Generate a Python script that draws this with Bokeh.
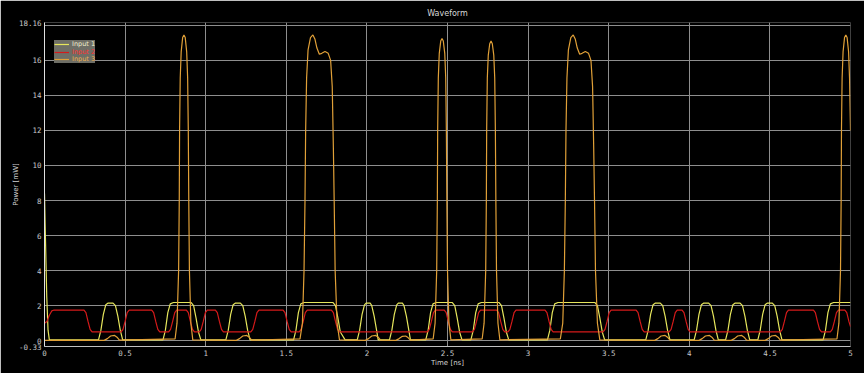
from bokeh.plotting import figure
from bokeh.models import FixedTicker, PrintfTickFormatter, Legend, LegendItem, Range1d
from bokeh.embed import file_html
from bokeh.resources import INLINE

# ---------------- data (time [ns], power [mW]) ----------------
series_names = ["Input 1", "Input 2", "Input 3"]
series_colors = ["#e6e65c", "#d41a1a", "#e0a038"]

input1_pts = [
    (0.0, 8.4), (0.004, 6.6), (0.008, 5.0), (0.014, 2.5), (0.022, 0.6), (0.03, 0.05),
    (0.335, 0.05), (0.35, 0.6), (0.365, 1.5), (0.38, 2.05), (0.395, 2.15), (0.425, 2.15),
    (0.44, 2.0), (0.455, 1.4), (0.47, 0.6), (0.485, 0.05),
    (0.735, 0.05), (0.75, 0.6), (0.765, 1.6), (0.78, 2.1), (0.80, 2.18), (0.91, 2.18),
    (0.925, 2.0), (0.94, 1.3), (0.955, 0.5), (0.97, 0.05),
    (1.125, 0.05), (1.14, 0.6), (1.155, 1.5), (1.17, 2.05), (1.185, 2.15), (1.215, 2.15),
    (1.23, 2.0), (1.245, 1.4), (1.26, 0.6), (1.275, 0.05),
    (1.545, 0.05), (1.56, 0.6), (1.575, 1.6), (1.59, 2.1), (1.61, 2.18), (1.79, 2.18),
    (1.805, 2.0), (1.82, 1.3), (1.835, 0.5), (1.865, 0.05),
    (1.94, 0.05), (1.955, 0.6), (1.97, 1.5), (1.985, 2.05), (1.995, 2.15), (2.02, 2.15),
    (2.03, 2.0), (2.045, 1.4), (2.06, 0.6), (2.07, 0.05),
    (2.14, 0.05), (2.155, 0.6), (2.17, 1.5), (2.185, 2.05), (2.195, 2.15), (2.22, 2.15),
    (2.23, 2.0), (2.245, 1.4), (2.26, 0.6), (2.27, 0.05),
    (2.365, 0.05), (2.38, 0.6), (2.395, 1.6), (2.41, 2.1), (2.43, 2.18), (2.53, 2.18),
    (2.545, 2.0), (2.56, 1.3), (2.575, 0.5), (2.59, 0.05),
    (2.645, 0.05), (2.66, 0.6), (2.675, 1.6), (2.69, 2.1), (2.71, 2.18), (2.82, 2.18),
    (2.835, 2.0), (2.85, 1.3), (2.865, 0.5), (2.88, 0.05),
    (3.12, 0.05), (3.135, 0.6), (3.15, 1.6), (3.165, 2.1), (3.185, 2.18), (3.415, 2.18),
    (3.43, 2.0), (3.445, 1.3), (3.46, 0.5), (3.475, 0.05),
    (3.73, 0.05), (3.745, 0.6), (3.76, 1.5), (3.775, 2.05), (3.79, 2.15), (3.82, 2.15),
    (3.835, 2.0), (3.85, 1.4), (3.865, 0.6), (3.88, 0.05),
    (4.03, 0.05), (4.045, 0.6), (4.06, 1.5), (4.075, 2.05), (4.09, 2.15), (4.12, 2.15),
    (4.135, 2.0), (4.15, 1.4), (4.165, 0.6), (4.18, 0.05),
    (4.225, 0.05), (4.24, 0.6), (4.255, 1.5), (4.27, 2.05), (4.285, 2.15), (4.315, 2.15),
    (4.33, 2.0), (4.345, 1.4), (4.36, 0.6), (4.375, 0.05),
    (4.425, 0.05), (4.44, 0.6), (4.455, 1.5), (4.47, 2.05), (4.485, 2.15), (4.515, 2.15),
    (4.53, 2.0), (4.545, 1.4), (4.56, 0.6), (4.575, 0.05),
    (4.83, 0.05), (4.845, 0.6), (4.86, 1.6), (4.875, 2.1), (4.895, 2.18), (5.0, 2.18),
]

input2_pts = [
    (0.0, 1.0), (0.015, 1.1), (0.03, 1.45), (0.045, 1.7), (0.06, 1.75),
    (0.245, 1.75), (0.257, 1.6), (0.27, 1.1), (0.283, 0.65), (0.295, 0.5),
    (0.475, 0.5), (0.487, 0.65), (0.5, 1.1), (0.513, 1.6), (0.525, 1.75),
    (0.665, 1.75), (0.677, 1.6), (0.69, 1.1), (0.703, 0.65), (0.715, 0.5),
    (0.77, 0.5), (0.782, 0.65), (0.795, 1.1), (0.808, 1.6), (0.82, 1.75),
    (0.88, 1.75), (0.892, 1.6), (0.905, 1.1), (0.918, 0.65), (0.93, 0.5),
    (0.96, 0.5), (0.972, 0.65), (0.985, 1.1), (0.998, 1.6), (1.01, 1.75),
    (1.06, 1.75), (1.072, 1.6), (1.085, 1.1), (1.098, 0.65), (1.11, 0.5),
    (1.28, 0.5), (1.292, 0.65), (1.305, 1.1), (1.318, 1.6), (1.33, 1.75),
    (1.48, 1.75), (1.492, 1.6), (1.505, 1.1), (1.518, 0.65), (1.53, 0.5),
    (1.58, 0.5), (1.592, 0.65), (1.605, 1.1), (1.618, 1.6), (1.63, 1.75),
    (1.78, 1.75), (1.792, 1.6), (1.805, 1.1), (1.818, 0.65), (1.83, 0.5),
    (2.375, 0.5), (2.387, 0.65), (2.4, 1.1), (2.413, 1.6), (2.425, 1.75),
    (2.48, 1.75), (2.492, 1.6), (2.505, 1.1), (2.518, 0.65), (2.53, 0.5),
    (2.655, 0.5), (2.667, 0.65), (2.68, 1.1), (2.693, 1.6), (2.705, 1.75),
    (2.805, 1.75), (2.817, 1.6), (2.83, 1.1), (2.843, 0.65), (2.855, 0.5),
    (2.875, 0.5), (2.887, 0.65), (2.9, 1.1), (2.913, 1.6), (2.925, 1.75),
    (3.105, 1.75), (3.117, 1.6), (3.13, 1.1), (3.143, 0.65), (3.155, 0.5),
    (3.465, 0.5), (3.477, 0.65), (3.49, 1.1), (3.503, 1.6), (3.515, 1.75),
    (3.67, 1.75), (3.682, 1.6), (3.695, 1.1), (3.708, 0.65), (3.72, 0.5),
    (3.875, 0.5), (3.887, 0.65), (3.9, 1.1), (3.913, 1.6), (3.925, 1.75),
    (3.955, 1.75), (3.967, 1.6), (3.98, 1.1), (3.993, 0.65), (4.005, 0.5),
    (4.565, 0.5), (4.577, 0.65), (4.59, 1.1), (4.603, 1.6), (4.615, 1.75),
    (4.77, 1.75), (4.782, 1.6), (4.795, 1.1), (4.808, 0.65), (4.82, 0.5),
    (4.875, 0.5), (4.887, 0.65), (4.9, 1.1), (4.913, 1.6), (4.925, 1.75),
    (4.965, 1.75), (4.977, 1.6), (4.99, 1.1), (5.0, 0.8),
]

input3_pts = [
    (0.0, 0.02),
    (0.37, 0.02), (0.39, 0.12), (0.41, 0.27), (0.435, 0.3), (0.45, 0.2), (0.465, 0.03),
    (0.81, 0.1), (0.822, 1.0), (0.832, 4.0), (0.836, 8.0), (0.838, 12.0), (0.842, 15.0),
    (0.848, 16.5), (0.857, 17.3), (0.865, 17.45), (0.873, 17.3), (0.882, 16.5), (0.888, 15.0),
    (0.892, 12.0), (0.895, 8.0), (0.899, 4.0), (0.908, 1.0), (0.92, 0.05),
    (1.19, 0.02), (1.21, 0.12), (1.23, 0.27), (1.255, 0.3), (1.27, 0.2), (1.285, 0.03),
    (1.585, 0.1), (1.6, 1.0), (1.61, 4.0), (1.616, 8.0), (1.62, 12.0), (1.626, 15.0),
    (1.635, 16.6), (1.65, 17.3), (1.665, 17.45), (1.678, 17.2), (1.69, 16.7), (1.705, 16.35),
    (1.72, 16.4), (1.74, 16.5), (1.76, 16.4), (1.775, 16.0), (1.785, 14.5), (1.792, 11.0),
    (1.797, 8.0), (1.803, 4.0), (1.815, 1.0), (1.83, 0.05),
    (1.99, 0.02), (2.01, 0.12), (2.03, 0.27), (2.055, 0.3), (2.07, 0.2), (2.085, 0.03),
    (2.18, 0.02), (2.2, 0.12), (2.22, 0.25), (2.24, 0.27), (2.255, 0.18), (2.27, 0.03),
    (2.411, 0.1), (2.423, 1.0), (2.433, 4.0), (2.437, 8.0), (2.439, 12.0), (2.443, 15.0),
    (2.449, 16.4), (2.458, 17.1), (2.466, 17.25), (2.474, 17.1), (2.483, 16.4), (2.489, 15.0),
    (2.493, 12.0), (2.496, 8.0), (2.5, 4.0), (2.509, 1.0), (2.521, 0.05),
    (2.715, 0.1), (2.727, 1.0), (2.737, 4.0), (2.741, 8.0), (2.743, 12.0), (2.747, 15.0),
    (2.753, 16.3), (2.762, 16.95), (2.77, 17.1), (2.778, 16.95), (2.787, 16.3), (2.793, 15.0),
    (2.797, 12.0), (2.8, 8.0), (2.804, 4.0), (2.813, 1.0), (2.825, 0.05),
    (3.2, 0.1), (3.215, 1.0), (3.225, 4.0), (3.231, 8.0), (3.235, 12.0), (3.241, 15.0),
    (3.25, 16.6), (3.265, 17.3), (3.28, 17.45), (3.293, 17.2), (3.305, 16.7), (3.32, 16.35),
    (3.335, 16.4), (3.355, 16.5), (3.375, 16.4), (3.39, 16.0), (3.4, 14.5), (3.407, 11.0),
    (3.412, 8.0), (3.418, 4.0), (3.43, 1.0), (3.445, 0.05),
    (3.785, 0.02), (3.805, 0.12), (3.825, 0.27), (3.85, 0.3), (3.865, 0.2), (3.88, 0.03),
    (4.06, 0.02), (4.08, 0.12), (4.1, 0.27), (4.125, 0.3), (4.14, 0.2), (4.155, 0.03),
    (4.26, 0.02), (4.28, 0.12), (4.3, 0.27), (4.325, 0.3), (4.34, 0.2), (4.355, 0.03),
    (4.47, 0.02), (4.49, 0.12), (4.51, 0.27), (4.535, 0.3), (4.55, 0.2), (4.565, 0.03),
    (4.916, 0.1), (4.928, 1.0), (4.938, 4.0), (4.942, 8.0), (4.944, 12.0), (4.948, 15.0),
    (4.954, 16.5), (4.963, 17.3), (4.971, 17.45), (4.979, 17.3), (4.988, 16.5), (4.994, 15.0),
    (5.0, 12.0),
]

x_ticks = [0, 0.5, 1, 1.5, 2, 2.5, 3, 3.5, 4, 4.5, 5]
y_ticks = [-0.33, 0, 2, 4, 6, 8, 10, 12, 14, 16, 18.16]
y_grid = [0, 2, 4, 6, 8, 10, 12, 14, 16, 18]

# ---------------- figure ----------------
p = figure(width=864, height=373, output_backend="svg", toolbar_location=None,
           x_range=Range1d(0, 5), y_range=Range1d(-0.33, 18.16),
           background_fill_color="black", border_fill_color="black",
           min_border_left=44, min_border_right=14, min_border_top=22, min_border_bottom=27,
           title="Waveform")
p.outline_line_color = None

p.title.text_font = "DejaVu Sans"
p.title.text_font_size = "8px"
p.title.text_font_style = "normal"
p.title.text_color = "#d8d8d8"
p.title.align = "center"
p.title.standoff = 9

mono = "DejaVu Sans Mono"
for ax in (p.xaxis[0], p.yaxis[0]):
    ax.major_label_text_font = mono
    ax.major_label_text_font_size = "7.5px"
    ax.major_label_text_color = "#c8c8c8"
    ax.major_tick_line_color = None
    ax.minor_tick_line_color = None
    ax.major_tick_out = 0
    ax.major_tick_in = 0
    ax.minor_tick_out = 0
    ax.minor_tick_in = 0
    ax.formatter = PrintfTickFormatter(format="%g")
    ax.axis_label_text_font = "DejaVu Sans"
    ax.axis_label_text_font_size = "7px"
    ax.axis_label_text_font_style = "normal"
    ax.axis_label_text_color = "#d0d0d0"
    ax.major_label_standoff = 3

p.xaxis[0].ticker = FixedTicker(ticks=x_ticks)
p.yaxis[0].ticker = FixedTicker(ticks=y_ticks)
p.xaxis[0].axis_label = "Time [ns]"
p.yaxis[0].axis_label = "Power [mW]"
p.xaxis[0].axis_label_standoff = 0
p.yaxis[0].axis_label_standoff = -4
p.xaxis[0].axis_line_color = "#c0c0c0"
p.yaxis[0].axis_line_color = "#e0e0e0"

p.xgrid[0].ticker = FixedTicker(ticks=x_ticks)
p.ygrid[0].ticker = FixedTicker(ticks=y_grid)
for g in (p.xgrid[0], p.ygrid[0]):
    g.grid_line_color = "#8e8e8e"
    g.grid_line_alpha = 1.0
    g.grid_line_width = 1

renderers = []
for pts, col in zip([input1_pts, input2_pts, input3_pts], series_colors):
    xs = [a for a, b in pts]
    ys = [b for a, b in pts]
    renderers.append(p.line(xs, ys, line_color=col, line_width=1.2))

# legend: three stacked boxes so each label can carry its own colour
label_colors = ["#f0f0d0", "#ff3030", "#f0b050"]
for i, (name, r, lc) in enumerate(zip(series_names, renderers, label_colors)):
    lg = Legend(items=[LegendItem(label=name, renderers=[r])],
                location=(10, 298 - i * 7.6),
                orientation="vertical",
                background_fill_color="#6e6e66", background_fill_alpha=1.0,
                border_line_color=None, margin=0, padding=0,
                glyph_height=6, glyph_width=15, label_height=6,
                label_standoff=3, spacing=0,
                label_text_font="DejaVu Sans", label_text_font_size="6.5px",
                label_text_color=lc, label_text_line_height=1.0)
    p.add_layout(lg)

open("out.html", "w").write(file_html(p, INLINE))
